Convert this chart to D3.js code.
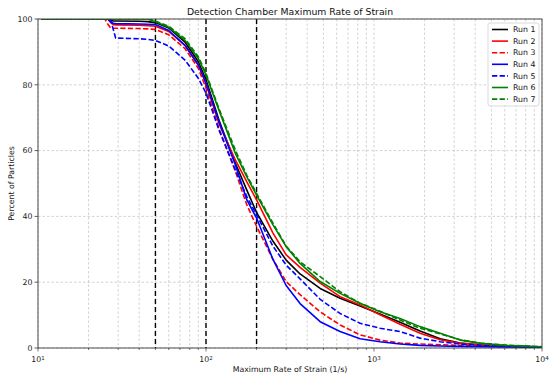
<!DOCTYPE html>
<html>
<head>
<meta charset="utf-8">
<script src="https://cdn.jsdelivr.net/npm/d3@7"></script>
<style>
  body{margin:0;background:#fff;}
  text{font-family:"DejaVu Sans",sans-serif;}
</style>
</head>
<body>
<div class="chart"></div>
<script>
// strain values (1/s) shared by every run
var strain=[10.5,25,26,27,28,29,40,45,50,60,75,90,100,120,150,175,200,250,300,363,478,628,826,1086,1429,1879,2476,3262,4300,6000,10000]

// percent of particles, one array per run
var run1=[100,100,100,99.7,99.4,99.4,99.3,99.2,98.9,97.3,93,87,81.5,69,56,48,41.2,32.5,26.7,22.5,18.1,15.1,12.8,10.3,7.8,5.2,2.8,1.5,0.9,0.6,0.3]
var run2=[100,100,100,99,98.3,98.2,98.1,98,97.8,96.2,92,86,80.5,68,57,50.5,45,35,28.3,24.5,19.7,15.6,13.1,10.1,7.2,4.5,2.5,1.4,1,0.6,0.3]
var run3=[100,100,98.5,97.3,97.2,97.2,97.1,97,96.8,95.2,91,85,79,66.5,53.5,43.5,37,27,20.2,16.2,11,7,4,2.4,1.5,1.2,1,0.8,0.6,0.4,0.3]
var run4=[100,100,100,99.2,98.7,98.6,98.5,98.4,98.3,96.5,92,86,80.5,68.5,55.5,45,39.5,27,19,13.5,8,5,2.8,1.9,1.2,0.8,0.6,0.5,0.4,0.3,0.2]
var run5=[100,100,100,100,97,94.2,94,93.8,93.5,91.8,87.5,82,77.5,66,54,46,40.5,31,25.2,21,14.8,10.5,7.5,6,5,3,1.9,1.2,0.8,0.5,0.3]
var run6=[100,100,100,100,100,100,100,100,99.2,97.5,93.5,88,83,72,59,52,46.5,37.5,30.8,25.7,20.2,16.6,13.6,11,9,6.5,4.5,2.4,1.4,0.8,0.4]
var run7=[100,100,100,100,100,100,100,100,99.4,97.8,94,88.5,83.5,72.5,60,52.5,47,38,31,26.2,21.7,17.1,13.6,11.2,8.5,6,4.3,2.5,1.5,0.9,0.4]

var runNames=["Run 1","Run 2","Run 3","Run 4","Run 5","Run 6","Run 7"]
var runValues=[run1,run2,run3,run4,run5,run6,run7]
var runColors=["#000000","#ff0000","#ff0000","#0000ff","#0000ff","#008000","#008000"]
var runDashed=[false,false,true,false,true,false,true]

// reference strain rates (black dashed lines)
var markers=[50,100,200]
var yTicks=[0,20,40,60,80,100]
var xMajor=[10,100,1000,10000]

var drawChart=function(){
  var screen={width:550,height:376}
  var margin={top:19,right:8,bottom:28,left:38}
  var w=screen.width-margin.left-margin.right
  var h=screen.height-margin.top-margin.bottom

  var svg=d3.select(".chart").append("svg")
      .attr("width",screen.width)
      .attr("height",screen.height)

  var g=svg.append("g").attr("transform","translate("+margin.left+","+margin.top+")")

  var x=d3.scaleLog().domain([10,10000]).range([0,w])
  var y=d3.scaleLinear().domain([0,100]).range([h,0])

  g.append("clipPath").attr("id","plotclip")
    .append("rect").attr("width",w).attr("height",h)

  // grid, major and minor on x
  var xGrid=x.ticks()
  g.append("g").selectAll("line")
      .data(xGrid)
      .enter().append("line")
      .attr("x1",function(d){return x(d)})
      .attr("x2",function(d){return x(d)})
      .attr("y1",0)
      .attr("y2",h)
      .style("stroke","#c0c0c0")
      .attr("stroke-width",0.7)
      .attr("stroke-dasharray","2.5,2")
  g.append("g").selectAll("line")
      .data(yTicks)
      .enter().append("line")
      .attr("x1",0)
      .attr("x2",w)
      .attr("y1",function(d){return y(d)})
      .attr("y2",function(d){return y(d)})
      .style("stroke","#c0c0c0")
      .attr("stroke-width",0.7)
      .attr("stroke-dasharray","2.5,2")

  // marker lines
  g.append("g").selectAll("line")
      .data(markers)
      .enter().append("line")
      .attr("x1",function(d){return x(d)})
      .attr("x2",function(d){return x(d)})
      .attr("y1",0)
      .attr("y2",h)
      .style("stroke","#000")
      .attr("stroke-width",1.4)
      .attr("stroke-dasharray","5,3")

  // runs
  var line=d3.line()
      .x(function(d,i){return x(strain[i])})
      .y(function(d){return y(d)})

  g.append("g").attr("clip-path","url(#plotclip)")
    .selectAll("path")
      .data(runValues)
      .enter().append("path")
      .attr("d",function(d){return line(d)})
      .style("fill","none")
      .style("stroke",function(d,i){return runColors[i]})
      .attr("stroke-width",1.6)
      .attr("stroke-linejoin","round")
      .attr("stroke-dasharray",function(d,i){return runDashed[i]?"5.3,2.3":null})

  // frame
  g.append("rect")
      .attr("width",w)
      .attr("height",h)
      .style("fill","none")
      .style("stroke","#3a3a3a")
      .attr("stroke-width",0.9)

  // y axis ticks
  var yAx=g.append("g")
  yAx.selectAll("line")
      .data(yTicks)
      .enter().append("line")
      .attr("x1",-3.5)
      .attr("x2",0)
      .attr("y1",function(d){return y(d)})
      .attr("y2",function(d){return y(d)})
      .style("stroke","#3a3a3a")
      .attr("stroke-width",0.8)
  yAx.selectAll("text")
      .data(yTicks)
      .enter().append("text")
      .attr("x",-5.5)
      .attr("y",function(d){return y(d)})
      .attr("dy","0.35em")
      .attr("text-anchor","end")
      .style("font-size","7.8px")
      .style("fill","#222")
      .text(function(d){return d})

  // x axis ticks
  var xAx=g.append("g")
  xAx.selectAll("line.minor")
      .data(xGrid)
      .enter().append("line")
      .attr("class","minor")
      .attr("x1",function(d){return x(d)})
      .attr("x2",function(d){return x(d)})
      .attr("y1",h)
      .attr("y2",function(d){return xMajor.indexOf(d)>=0?h+3.5:h+2})
      .style("stroke","#3a3a3a")
      .attr("stroke-width",0.7)
  var xLabels=xAx.selectAll("text")
      .data(xMajor)
      .enter().append("text")
      .attr("x",function(d){return x(d)})
      .attr("y",h+14)
      .attr("text-anchor","middle")
      .style("font-size","7.8px")
      .style("fill","#222")
  xLabels.append("tspan").text("10")
  xLabels.append("tspan")
      .attr("dy","-0.45em")
      .style("font-size","5.5px")
      .text(function(d){return Math.round(Math.log10(d))})

  // titles
  svg.append("text")
      .attr("x",margin.left+w/2)
      .attr("y",15)
      .attr("text-anchor","middle")
      .style("font-size","9.3px")
      .style("fill","#111")
      .text("Detection Chamber Maximum Rate of Strain")
  svg.append("text")
      .attr("x",margin.left+w/2)
      .attr("y",372)
      .attr("text-anchor","middle")
      .style("font-size","7.8px")
      .style("fill","#111")
      .text("Maximum Rate of Strain (1/s)")
  svg.append("text")
      .attr("transform","translate(14,"+(margin.top+h/2)+") rotate(-90)")
      .attr("text-anchor","middle")
      .style("font-size","7.8px")
      .style("fill","#111")
      .text("Percent of Particles")

  // legend
  var leg=svg.append("g").attr("transform","translate(488,23)")
  leg.append("rect")
      .attr("width",51)
      .attr("height",83)
      .attr("rx",2)
      .style("fill","#fff")
      .style("fill-opacity",0.85)
      .style("stroke","#d0d0d0")
      .attr("stroke-width",0.8)
  var item=leg.selectAll("g.item")
      .data(runNames)
      .enter().append("g")
      .attr("class","item")
      .attr("transform",function(d,i){return "translate(0,"+(6.5+i*11.6)+")"})
  item.append("line")
      .attr("x1",4)
      .attr("x2",20)
      .style("stroke",function(d,i){return runColors[i]})
      .attr("stroke-width",1.6)
      .attr("stroke-dasharray",function(d,i){return runDashed[i]?"5.3,2.3":null})
  item.append("text")
      .attr("x",25)
      .attr("dy","0.35em")
      .style("font-size","7.8px")
      .style("fill","#111")
      .text(function(d){return d})
}

drawChart()
</script>
</body>
</html>
